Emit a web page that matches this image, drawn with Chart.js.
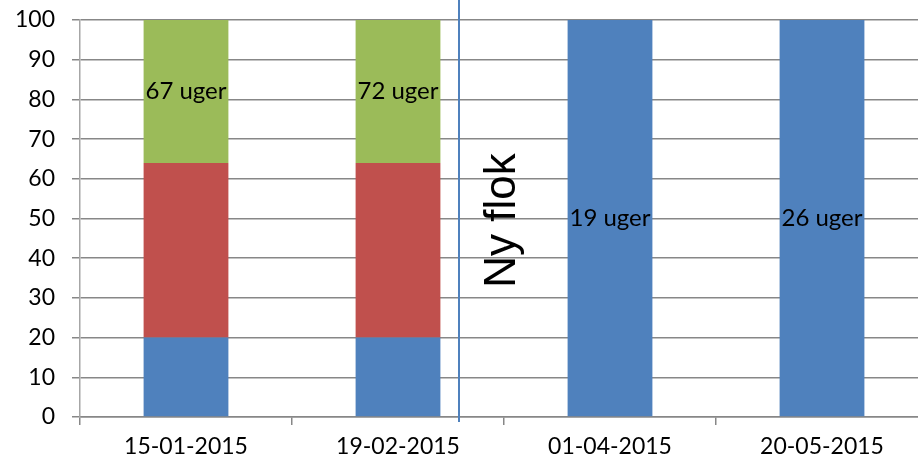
<!DOCTYPE html>
<html>
<head>
<meta charset="utf-8">
<script src="https://cdn.jsdelivr.net/npm/chart.js@4/dist/chart.umd.min.js"></script>
<style>
  html, body { margin: 0; padding: 0; background: #fff; overflow: hidden; }
  #wrap { width: 930px; height: 461px; }
</style>
</head>
<body>
<div id="wrap"><canvas id="chart"></canvas></div>
<script>
const categories = ['15-01-2015', '19-02-2015', '01-04-2015', '20-05-2015'];
const blueValues = [20, 20, 100, 100];
const redValues = [44, 44, null, null];
const greenValues = [36, 36, null, null];
const weekLabels = ['67 uger', '72 uger', '19 uger', '26 uger'];
const yTicks = [0, 10, 20, 30, 40, 50, 60, 70, 80, 90, 100];

const gridGray = '#878787';
const font = 'Lato';

// labels on top segment + the "Ny flok" divider
const annotations = {
  id: 'annotations',
  afterDatasetsDraw(chart) {
    const ctx = chart.ctx;
    const x = chart.scales.x, y = chart.scales.y;
    ctx.save();
    ctx.fillStyle = '#000';
    ctx.font = '24px ' + font;
    ctx.textAlign = 'center';
    ctx.textBaseline = 'middle';
    categories.forEach((c, i) => {
      let el = null;
      chart.data.datasets.forEach((ds, d) => {
        if (ds.data[i] != null) el = chart.getDatasetMeta(d).data[i];
      });
      if (el) {
        const p = el.getCenterPoint();
        ctx.fillText(weekLabels[i], p.x, p.y);
      }
    });

    const lx = Math.round(x.getPixelForValue(1.29));
    ctx.strokeStyle = '#4f81bd';
    ctx.lineWidth = 2;
    ctx.beginPath();
    ctx.moveTo(lx, 0);
    ctx.lineTo(lx, y.bottom + 5);
    ctx.stroke();

    ctx.translate(x.getPixelForValue(1.55), y.getPixelForValue(49.5));
    ctx.rotate(-Math.PI / 2);
    ctx.font = '44px "Liberation Sans"';
    ctx.textBaseline = 'alphabetic';
    ctx.fillText('Ny flok', 0, 0);
    ctx.restore();
  }
};

new Chart(document.getElementById('chart'), {
  type: 'bar',
  data: {
    labels: categories,
    datasets: [
      { label: 'blue', data: blueValues, backgroundColor: '#4f81bd' },
      { label: 'red', data: redValues, backgroundColor: '#c0504d' },
      { label: 'green', data: greenValues, backgroundColor: '#9bbb59' }
    ]
  },
  options: {
    responsive: true,
    maintainAspectRatio: false,
    animation: false,
    layout: { padding: { top: 20, right: 2, left: 0, bottom: 0 } },
    datasets: { bar: { barPercentage: 0.4, categoryPercentage: 1 } },
    scales: {
      x: {
        stacked: true,
        afterFit: s => { s.height = 44; s.paddingLeft = 0; s.paddingRight = 0; },
        grid: { drawOnChartArea: false, drawTicks: true, tickLength: 8, color: gridGray, lineWidth: 1.5 },
        border: { color: gridGray, width: 1.5 },
        ticks: { color: '#000', padding: 8, font: { family: font, size: 23 } }
      },
      y: {
        stacked: true,
        min: 0,
        max: 100,
        afterFit: s => { s.width = 80; s.paddingTop = 0; s.paddingBottom = 0; },
        afterBuildTicks: s => { s.ticks = yTicks.map(v => ({ value: v })); },
        grid: { color: gridGray, lineWidth: 1.5, tickLength: 8 },
        border: { color: '#a6a6a6', width: 1.5 },
        ticks: { color: '#000', padding: 17, font: { family: font, size: 23 } }
      }
    },
    plugins: {
      legend: { display: false },
      tooltip: { enabled: false }
    }
  },
  plugins: [annotations]
});
</script>
</body>
</html>
